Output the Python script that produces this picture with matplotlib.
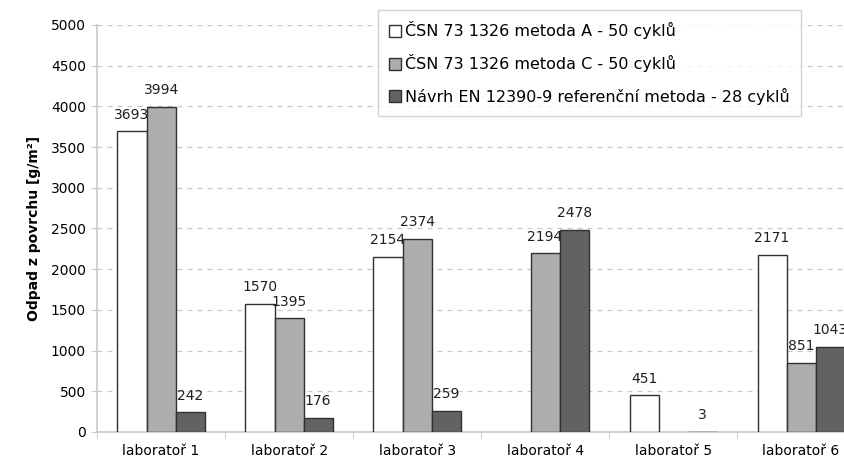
import numpy as np
import matplotlib
matplotlib.use("Agg")
import matplotlib.pyplot as plt
from matplotlib.ticker import FixedLocator

plt.rcParams["font.family"] = ["DejaVu Sans"]

laboratore = ["laboratoř 1", "laboratoř 2", "laboratoř 3",
              "laboratoř 4", "laboratoř 5", "laboratoř 6"]
metoda_a = [3693, 1570, 2154, np.nan, 451, 2171]
metoda_c = [3994, 1395, 2374, 2194, np.nan, 851]
en_12390 = [242, 176, 259, 2478, 3, 1043]

serie = [
    ("ČSN 73 1326 metoda A - 50 cyklů", metoda_a, "#ffffff"),
    ("ČSN 73 1326 metoda C - 50 cyklů", metoda_c, "#adadad"),
    ("Návrh EN 12390-9 referenční metoda - 28 cyklů", en_12390, "#626262"),
]

fig = plt.figure(figsize=(8.44, 4.61), dpi=100)
# plocha grafu presahuje pravy okraj obrazku
ax = fig.add_axes([0.115, 0.063, 0.91, 0.883])

x = np.arange(len(laboratore))
sirka = 0.227
for i, (nazev, hodnoty, barva) in enumerate(serie):
    h = np.array(hodnoty, dtype=float)
    ok = ~np.isnan(h)
    bars = ax.bar(x[ok] + (i - 1) * sirka, h[ok], sirka,
                  color=barva, edgecolor="#303030", linewidth=1.0,
                  label=nazev, zorder=3)
    ax.bar_label(bars, labels=[f"{int(v)}" for v in h[ok]], padding=7,
                 fontsize=10, color="#202020")

ax.set_xlim(-0.5, len(laboratore) - 0.5)
ax.set_ylim(0, 5000)
ax.set_yticks(np.arange(0, 5001, 500))
ax.yaxis.grid(True, linestyle=(0, (4, 4)), color="#c8c8c8", linewidth=0.9, zorder=0)
ax.set_xticks(x)
ax.set_xticklabels(laboratore, fontsize=10)
ax.xaxis.set_minor_locator(FixedLocator(np.arange(-0.5, len(laboratore), 1)))
ax.tick_params(axis="x", which="major", length=0, pad=9)
ax.tick_params(axis="x", which="minor", length=5, color="#c8c8c8")
ax.tick_params(axis="y", length=4, color="#c8c8c8", labelsize=10, pad=4)

for s in ["top", "right"]:
    ax.spines[s].set_visible(False)
for s in ["left", "bottom"]:
    ax.spines[s].set_color("#c8c8c8")
    ax.spines[s].set_linewidth(1.2)

ax.set_ylabel("Odpad z povrchu [g/m²]", fontsize=10, fontweight="bold", labelpad=7)

leg = ax.legend(loc="upper left", bbox_to_anchor=(0.448, 0.978),
                bbox_transform=fig.transFigure, fontsize=11.5, frameon=True,
                fancybox=False, edgecolor="#c8c8c8", handlelength=0.75,
                handleheight=0.75, handletextpad=0.25, labelspacing=0.95,
                borderpad=0.7, borderaxespad=0)
leg.get_frame().set_linewidth(1.0)

fig.savefig("out.png", dpi=100, facecolor="white")
